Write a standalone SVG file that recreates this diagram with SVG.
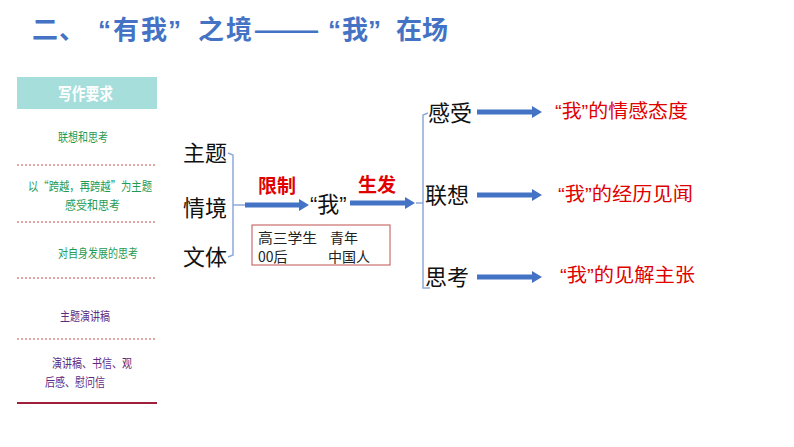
<svg xmlns="http://www.w3.org/2000/svg" width="794" height="447" viewBox="0 0 794 447">
<defs>
<style>
.cjk{font-family:"Noto Sans CJK SC","Noto Sans",sans-serif}
.title{font-size:26px;font-weight:bold;fill:#4472C4}
.lg{font-size:12.5px;fill:#1E9B55}
.lp{font-size:12.5px;fill:#5B2C83}
.big{font-size:22px;fill:#111}
.red{font-size:19px;font-weight:bold;fill:#E00000}
.rt{font-size:19px;fill:#E00000}
.box{font-size:14px;fill:#222}
.q{font-family:"Liberation Sans",sans-serif}
.dash{stroke:#C0504D;stroke-width:1;stroke-dasharray:2 2}
.shaft{stroke:#4472C4;stroke-width:5;fill:none}
.br{stroke:#8EA9DB;stroke-width:1.5;fill:none}
</style>
<marker id="ah" viewBox="0 0 10 12" refX="0" refY="6" markerWidth="10" markerHeight="12" markerUnits="userSpaceOnUse" orient="auto">
<path d="M0,0 L10,6 L0,12 Z" fill="#4472C4"/>
</marker>
</defs>
<rect width="794" height="447" fill="#fff"/>
<g id="title" class="cjk title">
<text y="39"><tspan x="32">二</tspan><tspan x="59">、</tspan><tspan class="q" x="98">“</tspan><tspan x="113">有</tspan><tspan x="141">我</tspan><tspan class="q" x="168">”</tspan><tspan x="198">之</tspan><tspan x="226">境</tspan></text>
<text x="253" y="39" textLength="67" lengthAdjust="spacingAndGlyphs">——</text>
<text y="39"><tspan class="q" x="328">“</tspan><tspan x="342">我</tspan><tspan class="q" x="368">”</tspan><tspan x="396">在</tspan><tspan x="422">场</tspan></text>
</g>
<g id="left-panel">
<rect x="17" y="77" width="140" height="32" fill="#A6DEDC"/>
<text class="cjk" x="58" y="100" font-size="17" font-weight="bold" fill="#fff" textLength="55" lengthAdjust="spacingAndGlyphs">写作要求</text>
<text class="cjk lg" x="58" y="142" textLength="50" lengthAdjust="spacingAndGlyphs">联想和思考</text>
<line class="dash" x1="17" y1="165" x2="157" y2="165"/>
<text class="cjk lg" x="28" y="191" textLength="124" lengthAdjust="spacingAndGlyphs">以“跨越，再跨越”为主题</text>
<text class="cjk lg" x="65" y="210" textLength="55" lengthAdjust="spacingAndGlyphs">感受和思考</text>
<line class="dash" x1="17" y1="222" x2="157" y2="222"/>
<text class="cjk lg" x="58" y="258" textLength="80" lengthAdjust="spacingAndGlyphs">对自身发展的思考</text>
<line class="dash" x1="17" y1="278" x2="157" y2="278"/>
<text class="cjk lp" x="60" y="321" textLength="50" lengthAdjust="spacingAndGlyphs">主题演讲稿</text>
<line class="dash" x1="17" y1="339" x2="157" y2="339"/>
<text class="cjk lp" x="52" y="368" textLength="80" lengthAdjust="spacingAndGlyphs">演讲稿、书信、观</text>
<text class="cjk lp" x="45" y="387" textLength="60" lengthAdjust="spacingAndGlyphs">后感、慰问信</text>
<line x1="17" y1="403" x2="157" y2="403" stroke="#A0203C" stroke-width="2"/>
</g>
<g id="inputs">
<text class="cjk big" x="183" y="161">主题</text>
<text class="cjk big" x="183" y="216">情境</text>
<text class="cjk big" x="183" y="265">文体</text>
</g>
<g id="label-limit"><text class="cjk red" x="258" y="193">限制</text></g>
<g id="label-grow"><text class="cjk red" x="358" y="192">生发</text></g>
<g id="me"><text class="cjk big" x="310" y="212"><tspan class="q">“</tspan>我<tspan class="q">”</tspan></text></g>
<g id="identity-box">
<rect x="252" y="225" width="138" height="40" fill="none" stroke="#C0504D" stroke-width="1"/>
<text class="cjk box" x="258" y="243" textLength="59" lengthAdjust="spacingAndGlyphs">高三学生</text>
<text class="cjk box" x="330" y="243">青年</text>
<text class="cjk box" x="258" y="262">00后</text>
<text class="cjk box" x="328" y="262">中国人</text>
</g>
<g id="aspects">
<text class="cjk big" x="428" y="121">感受</text>
<text class="cjk big" x="425" y="203">联想</text>
<text class="cjk big" x="425" y="285">思考</text>
</g>
<g id="results">
<text class="cjk rt" x="555" y="118" textLength="133" lengthAdjust="spacingAndGlyphs"><tspan class="q">“</tspan>我<tspan class="q">”</tspan>的情感态度</text>
<text class="cjk rt" x="558" y="201" textLength="135" lengthAdjust="spacingAndGlyphs"><tspan class="q">“</tspan>我<tspan class="q">”</tspan>的经历见闻</text>
<text class="cjk rt" x="560" y="282" textLength="135" lengthAdjust="spacingAndGlyphs"><tspan class="q">“</tspan>我<tspan class="q">”</tspan>的见解主张</text>
</g>
<g id="connectors">
<path class="br" d="M228,153 L233,155 L233,255 L228,257"/>
<line class="br" x1="233" y1="205" x2="245" y2="205"/>
<line class="shaft" x1="245" y1="205" x2="299" y2="205" marker-end="url(#ah)"/>
<line class="shaft" x1="350" y1="203" x2="405" y2="203" marker-end="url(#ah)"/>
<path class="br" d="M428,113 L423,115 L423,288 L430,288"/>
<line class="br" x1="416" y1="203" x2="423" y2="203"/>
<line class="shaft" x1="477" y1="112" x2="532" y2="112" marker-end="url(#ah)"/>
<line class="shaft" x1="477" y1="195" x2="532" y2="195" marker-end="url(#ah)"/>
<line class="shaft" x1="477" y1="277" x2="532" y2="277" marker-end="url(#ah)"/>
</g>
</svg>
